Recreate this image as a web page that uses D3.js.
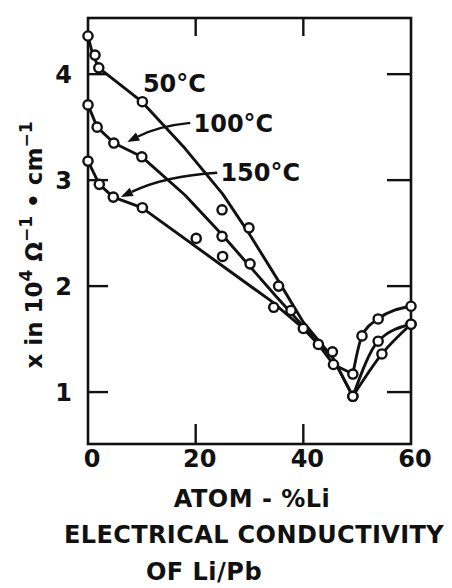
<!DOCTYPE html>
<html><head><meta charset="utf-8">
<script src="https://cdn.jsdelivr.net/npm/d3@7"></script>
<style>
body{margin:0;background:#fff}
svg{display:block}
text{font-family:"DejaVu Sans",sans-serif;font-weight:bold;fill:#111}
</style>
</head><body>
<script>
// ---- data ----
const xTicks = [0, 20, 40, 60];
const yTicks = [1, 2, 3, 4];
const seriesNames = ["50°C", "100°C", "150°C"];

// measured points (circles)
const pts50  = [[0,4.36],[1.3,4.18],[2.0,4.06],[10.1,3.74],[24.9,2.72],[29.9,2.55],[35.4,2.00],[37.7,1.77],[42.8,1.45],[45.4,1.38],[49.2,0.96],[54.6,1.36],[60,1.64]];
const pts100 = [[0,3.71],[1.7,3.50],[4.8,3.35],[10,3.22],[24.9,2.47],[30.1,2.21],[40,1.60],[49.2,0.96],[53.9,1.48],[60,1.64]];
const pts150 = [[0,3.18],[2.1,2.96],[4.7,2.84],[10.1,2.74],[20.1,2.45],[25,2.28],[34.5,1.80],[45.6,1.26],[49.2,1.17],[50.9,1.53],[53.9,1.69],[60,1.81]];

// hand-drawn fit curves (left branch down to minimum, right branch from minimum)
const fit50L  = [[0,4.36],[0.8,4.20],[2,4.06],[10,3.74],[18,3.30],[25,2.87],[30,2.49],[35,2.08],[40,1.66],[45.4,1.33],[49.2,0.96]];
const fit50R  = [[49.2,0.96],[54.6,1.36],[60,1.64]];
const fit100L = [[0,3.71],[1.7,3.50],[4.8,3.35],[10,3.22],[18,2.86],[25,2.48],[30,2.19],[35,1.90],[40,1.62],[45.4,1.33],[49.2,0.96]];
const fit100R = [[49.2,0.96],[53.9,1.48],[60,1.64]];
const fit150L = [[0,3.18],[2.1,2.96],[4.7,2.84],[10,2.74],[25,2.19],[34,1.86],[40,1.60],[42.8,1.45],[45.6,1.26],[49.2,1.17]];
const fit150R = [[49.2,1.17],[50.9,1.53],[53.9,1.69],[60,1.81]];

// ---- chart ----
const W = 452, H = 588;
const svg = d3.select("body").append("svg").attr("width", W).attr("height", H);

const x = d3.scaleLinear().domain([0, 60]).range([88, 411]);
const y = d3.scaleLinear().domain([0.51, 4.53]).range([444, 18]);

const ink = "#111";
// frame
svg.append("rect")
  .attr("x", x(0)).attr("y", y(4.53))
  .attr("width", x(60) - x(0)).attr("height", y(0.51) - y(4.53))
  .attr("fill", "none").attr("stroke", ink).attr("stroke-width", 2.6);

// ticks (inward)
const tl = 20;
svg.append("g").selectAll("line").data(xTicks.filter(d => d > 0 && d < 60)).join("line")
  .attr("x1", d => x(d)).attr("x2", d => x(d))
  .attr("y1", y(0.51)).attr("y2", y(0.51) - tl)
  .attr("stroke", ink).attr("stroke-width", 2.4);
svg.append("g").selectAll("line").data(xTicks.filter(d => d > 0 && d < 60)).join("line")
  .attr("x1", d => x(d)).attr("x2", d => x(d))
  .attr("y1", y(4.53)).attr("y2", y(4.53) + 18)
  .attr("stroke", ink).attr("stroke-width", 2.4);
svg.append("g").selectAll("line").data(yTicks).join("line")
  .attr("x1", x(0)).attr("x2", x(0) + tl)
  .attr("y1", d => y(d)).attr("y2", d => y(d))
  .attr("stroke", ink).attr("stroke-width", 2.4);
svg.append("g").selectAll("line").data(yTicks).join("line")
  .attr("x1", x(60)).attr("x2", x(60) - 24)
  .attr("y1", d => y(d)).attr("y2", d => y(d))
  .attr("stroke", ink).attr("stroke-width", 2.4);

// tick labels
svg.append("g").selectAll("text").data(xTicks).join("text")
  .attr("x", d => x(d) + 4).attr("y", 467)
  .attr("text-anchor", "middle").attr("font-size", 24)
  .text(d => d);
svg.append("g").selectAll("text").data(yTicks).join("text")
  .attr("x", 72).attr("y", d => y(d) + 9)
  .attr("text-anchor", "end").attr("font-size", 24)
  .text(d => d);

// fit lines: straight-ish descending branches, smooth rising branches
const lineL = d3.line().x(d => x(d[0])).y(d => y(d[1])).curve(d3.curveLinear);
const lineR = d3.line().x(d => x(d[0])).y(d => y(d[1])).curve(d3.curveMonotoneX);
const fitsL = [fit50L, fit100L, fit150L];
const fitsR = [fit50R, fit100R, fit150R];
svg.append("g").selectAll("path").data(fitsL).join("path")
  .attr("d", lineL).attr("fill", "none")
  .attr("stroke", ink).attr("stroke-width", 2.9)
  .attr("stroke-linejoin", "round").attr("stroke-linecap", "round");
svg.append("g").selectAll("path").data(fitsR).join("path")
  .attr("d", lineR).attr("fill", "none")
  .attr("stroke", ink).attr("stroke-width", 2.9)
  .attr("stroke-linejoin", "round").attr("stroke-linecap", "round");

// points
const allPts = [pts50, pts100, pts150];
svg.append("g").selectAll("g").data(allPts).join("g")
  .selectAll("circle").data(d => d).join("circle")
  .attr("cx", d => x(d[0])).attr("cy", d => y(d[1])).attr("r", 4.6)
  .attr("fill", "#fff").attr("stroke", ink).attr("stroke-width", 2.4);

// series labels with arrows
const labelAt = [[10.2, 3.83], [19.6, 3.45], [24.6, 2.99]];
svg.append("g").selectAll("text").data(seriesNames).join("text")
  .attr("x", (d, i) => x(labelAt[i][0])).attr("y", (d, i) => y(labelAt[i][1]))
  .attr("font-size", 24).text(d => d);

const arrows = [
  {from: [19.0, 3.54], ctrl: [13.1, 3.51], to: [7.3, 3.36]},
  {from: [24.0, 3.07], ctrl: [14.3, 3.04], to: [6.1, 2.84]}
];
arrows.forEach(a => {
  const p0 = [x(a.from[0]), y(a.from[1])], c = [x(a.ctrl[0]), y(a.ctrl[1])], p1 = [x(a.to[0]), y(a.to[1])];
  const ang = Math.atan2(p1[1] - c[1], p1[0] - c[0]);
  const L = 12, Wd = 4.5;
  const base = [p1[0] - L * Math.cos(ang), p1[1] - L * Math.sin(ang)];
  svg.append("path")
    .attr("d", `M${p0[0]},${p0[1]} Q${c[0]},${c[1]} ${base[0]},${base[1]}`)
    .attr("fill", "none").attr("stroke", ink).attr("stroke-width", 2.4);
  const nx = -Math.sin(ang), ny = Math.cos(ang);
  svg.append("path")
    .attr("d", `M${p1[0]},${p1[1]} L${base[0] + nx * Wd},${base[1] + ny * Wd} L${base[0] - nx * Wd},${base[1] - ny * Wd} Z`)
    .attr("fill", ink);
});

// y axis title (rotated)
const yt = svg.append("text")
  .attr("transform", "translate(42,245) rotate(-90)")
  .attr("text-anchor", "middle").attr("font-size", 23);
yt.append("tspan").text("x in 10");
yt.append("tspan").attr("dy", -10).attr("font-size", 17).text("4");
yt.append("tspan").attr("dy", 10).text(" Ω");
yt.append("tspan").attr("dy", -10).attr("font-size", 17).text("−1");
yt.append("tspan").attr("dy", 10).text(" • cm");
yt.append("tspan").attr("dy", -10).attr("font-size", 17).text("−1");

// x axis titles
svg.append("text").attr("x", 252).attr("y", 507).attr("text-anchor", "middle")
  .attr("font-size", 24).attr("letter-spacing", 0.5).text("ATOM - %Li");
svg.append("text").attr("x", 254).attr("y", 543).attr("text-anchor", "middle")
  .attr("font-size", 24).attr("letter-spacing", 0.4).text("ELECTRICAL CONDUCTIVITY");
svg.append("text").attr("x", 204).attr("y", 580).attr("text-anchor", "middle")
  .attr("font-size", 24).attr("letter-spacing", 0.5).text("OF Li/Pb");
</script>
</body></html>
